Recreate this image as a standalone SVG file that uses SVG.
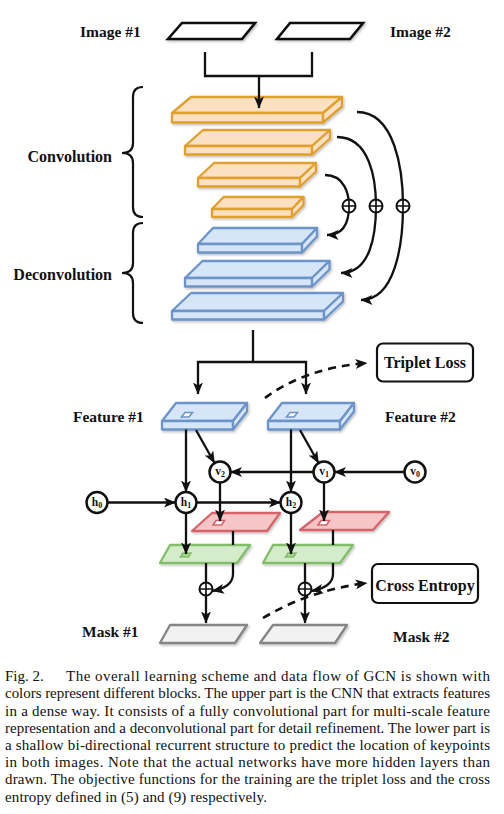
<svg xmlns="http://www.w3.org/2000/svg" width="504" height="814" viewBox="0 0 504 814">
<style>
.lbl{font-family:"Liberation Serif","Times New Roman",serif;font-weight:bold;font-size:15.5px;fill:#111}
.lbl16{font-family:"Liberation Serif","Times New Roman",serif;font-weight:bold;font-size:16px;fill:#111}
.nl{font-family:"Liberation Serif","Times New Roman",serif;font-weight:bold;font-size:11.5px;fill:#111}
.cap{font-family:"Liberation Serif","Times New Roman",serif;font-size:15px;fill:#111}
.conv{fill:#FCE0C2;stroke:#E0A02E;stroke-width:2.3;stroke-linejoin:round}
.dec{fill:#D6E5F7;stroke:#6C94C8;stroke-width:2.3;stroke-linejoin:round}
.red{fill:#F6C5C5;stroke:#D6646A;stroke-width:2.3;stroke-linejoin:round}
.grn{fill:#D5ECCB;stroke:#82BE6A;stroke-width:2.3;stroke-linejoin:round}
.msk{fill:#F2F2F2;stroke:#858585;stroke-width:2.3;stroke-linejoin:round}
.img{fill:#fff;stroke:#111;stroke-width:2.6;stroke-linejoin:miter}
.ln{fill:none;stroke:#111;stroke-width:2.3}
.arr{fill:none;stroke:#111;stroke-width:2.3;marker-end:url(#ah)}
.dash{fill:none;stroke:#111;stroke-width:2.6;stroke-dasharray:8 6;marker-end:url(#ah)}
.nd{fill:#fff;stroke:#111;stroke-width:2.5}
.plus{fill:#fff;stroke:#111;stroke-width:2}
.box{fill:#fff;stroke:#111;stroke-width:2.2}
.brace{fill:none;stroke:#111;stroke-width:2.2}
</style>
<defs>
<marker id="ah" markerUnits="userSpaceOnUse" markerWidth="12" markerHeight="10" refX="11.5" refY="5" orient="auto">
<path d="M0,0 L12,5 L0,10 L3,5 z" fill="#111"/>
</marker>
<filter id="sh" x="-10%" y="-10%" width="130%" height="150%">
<feDropShadow dx="1.2" dy="1.5" stdDeviation="1" flood-color="#000" flood-opacity="0.25"/>
</filter>
</defs>
<rect width="504" height="814" fill="#fff"/>

<!-- labels -->
<g id="labels">
<text class="lbl" x="80" y="37">Image #1</text>
<text class="lbl" x="390" y="37">Image #2</text>
<text class="lbl16" x="112" y="162" text-anchor="end">Convolution</text>
<text class="lbl16" x="112" y="280" text-anchor="end">Deconvolution</text>
<text class="lbl" x="73" y="422">Feature #1</text>
<text class="lbl" x="385" y="422">Feature #2</text>
<text class="lbl" x="82" y="637">Mask #1</text>
<text class="lbl" x="393" y="642">Mask #2</text>
</g>

<!-- braces -->
<g id="braces">
<path class="brace" d="M143,87 Q133,87 133,97 L133,143 Q133,153 122,153 Q133,153 133,163 L133,207 Q133,217 143,217"/>
<path class="brace" d="M143,223 Q133,223 133,233 L133,263 Q133,273 122,273 Q133,273 133,283 L133,313 Q133,323 143,323"/>
</g>

<!-- image inputs -->
<g id="image1" filter="url(#sh)"><polygon class="img" points="182,23 255,23 242,39 168,39"/></g>
<g id="image2" filter="url(#sh)"><polygon class="img" points="290,23 363,23 350,39 277,39"/></g>

<!-- convolution layers -->
<g id="conv1" filter="url(#sh)">
<polygon class="conv" points="191,97 342,97 323,113 172,113"/>
<polygon class="conv" points="172,113 323,113 323,122.5 172,122.5"/>
<polygon class="conv" points="323,113 342,97 342,106.5 323,122.5"/>
</g>
<g id="conv2" filter="url(#sh)">
<polygon class="conv" points="203,130 330,130 312,146 185,146"/>
<polygon class="conv" points="185,146 312,146 312,154.5 185,154.5"/>
<polygon class="conv" points="312,146 330,130 330,138.5 312,154.5"/>
</g>
<g id="conv3" filter="url(#sh)">
<polygon class="conv" points="214,163 316,163 300,178 198,178"/>
<polygon class="conv" points="198,178 300,178 300,186.5 198,186.5"/>
<polygon class="conv" points="300,178 316,163 316,171.5 300,186.5"/>
</g>
<g id="conv4" filter="url(#sh)">
<polygon class="conv" points="223.5,197 303.5,197 292,209 212,209"/>
<polygon class="conv" points="212,209 292,209 292,217 212,217"/>
<polygon class="conv" points="292,209 303.5,197 303.5,205 292,217"/>
</g>

<!-- deconvolution layers -->
<g id="deconv1" filter="url(#sh)">
<polygon class="dec" points="213,228 317,228 302,244 198,244"/>
<polygon class="dec" points="198,244 302,244 302,252.5 198,252.5"/>
<polygon class="dec" points="302,244 317,228 317,236.5 302,252.5"/>
</g>
<g id="deconv2" filter="url(#sh)">
<polygon class="dec" points="202.5,261 329.5,261 312,278 185,278"/>
<polygon class="dec" points="185,278 312,278 312,286.5 185,286.5"/>
<polygon class="dec" points="312,278 329.5,261 329.5,269.5 312,286.5"/>
</g>
<g id="deconv3" filter="url(#sh)">
<polygon class="dec" points="191,293 343,293 324,311 172,311"/>
<polygon class="dec" points="172,311 324,311 324,319.5 172,319.5"/>
<polygon class="dec" points="324,311 343,293 343,301.5 324,319.5"/>
</g>

<!-- features -->
<g id="feature1" filter="url(#sh)">
<polygon class="dec" points="176,403 247,403 233,421 162,421"/>
<polygon class="dec" points="162,421 233,421 233,429.5 162,429.5"/>
<polygon class="dec" points="233,421 247,403 247,411.5 233,429.5"/>
<polygon points="185,412.5 192.5,412.5 189,417 181.5,417" fill="#fff" stroke="#6C94C8" stroke-width="1.6"/>
</g>
<g id="feature2" filter="url(#sh)">
<polygon class="dec" points="282,403 354,403 340,421 268,421"/>
<polygon class="dec" points="268,421 340,421 340,429.5 268,429.5"/>
<polygon class="dec" points="340,421 354,403 354,411.5 340,429.5"/>
<polygon points="290,412.5 297.5,412.5 294,417 286.5,417" fill="#fff" stroke="#6C94C8" stroke-width="1.6"/>
</g>

<!-- red planes -->
<g id="red1" filter="url(#sh)">
<polygon class="red" points="212,513 280,513 267,531 192,531"/>
<polygon points="216,520.5 224.5,520.5 221.5,525 213,525" fill="#fff" stroke="#D6646A" stroke-width="1.6"/>
</g>
<g id="red2" filter="url(#sh)">
<polygon class="red" points="323,512 389,512 373,530 300,530"/>
<polygon points="321,520.5 329.5,520.5 326.5,525 318,525" fill="#fff" stroke="#D6646A" stroke-width="1.6"/>
</g>

<!-- green planes -->
<g id="green1" filter="url(#sh)">
<polygon class="grn" points="170,545 250,545 237,563 160,563"/>
<polygon points="183,553 191,553 188.5,557 180.5,557" fill="#A9D496" stroke="#82BE6A" stroke-width="1.6"/>
</g>
<g id="green2" filter="url(#sh)">
<polygon class="grn" points="273,545 353,545 340,563 263,563"/>
<polygon points="288,553 296,553 293.5,557 285.5,557" fill="#A9D496" stroke="#82BE6A" stroke-width="1.6"/>
</g>

<!-- masks -->
<g id="mask1" filter="url(#sh)"><polygon class="msk" points="170,625 247,625 235,643 160,643"/></g>
<g id="mask2" filter="url(#sh)"><polygon class="msk" points="273,625 347,625 335,643 260,643"/></g>

<!-- loss boxes -->
<g id="tripletLoss">
<rect class="box" x="377" y="343.5" width="96" height="38" rx="6"/>
<text class="lbl16" x="425" y="368" text-anchor="middle">Triplet Loss</text>
</g>
<g id="crossEntropy">
<rect class="box" x="372" y="564" width="106" height="39" rx="6"/>
<text class="lbl16" x="425" y="591" text-anchor="middle">Cross Entropy</text>
</g>

<!-- connectors -->
<g id="connectors">
<path class="ln" d="M205,52 L205,76 L312,76 L312,52"/>
<path class="arr" d="M259,76 L259,108"/>
<path class="arr" d="M357,112 C395,112 403,170 403,206 C403,245 395,300 361,300"/>
<path class="arr" d="M337,137 C370,137 376,180 376,206 C376,236 370,273 341,273"/>
<path class="arr" d="M325,175 C345,175 349,195 349,206 C349,220 345,235 327,235"/>
<path class="ln" d="M253,330 L253,362"/>
<path class="arr" d="M253,362 L198,362 L198,394"/>
<path class="arr" d="M253,362 L306,362 L306,394"/>
<path class="dash" d="M265,398 Q305,368 367,363"/>
<path class="arr" d="M186,429.5 L186,492"/>
<path class="arr" d="M291,429.5 L291,492"/>
<path class="arr" d="M196,430 L214.5,463"/>
<path class="arr" d="M300,430 L318.5,463"/>
<path class="arr" d="M107.5,502.5 L175.5,502.5"/>
<path class="arr" d="M196.5,502.5 L280.5,502.5"/>
<path class="arr" d="M404.5,472 L334.5,472"/>
<path class="arr" d="M313.5,472 L230.5,472"/>
<path class="arr" d="M220,482.5 L220,521"/>
<path class="arr" d="M324,482.5 L324,521"/>
<path class="arr" d="M186,513 L186,554"/>
<path class="arr" d="M291,513 L291,554"/>
<path class="ln" d="M233,531 L233,545"/>
<path class="ln" d="M333,530 L333,545"/>
<path class="arr" d="M233,563 L233,574 Q233,587 212.5,591"/>
<path class="arr" d="M333,563 L333,574 Q333,587 311.5,591"/>
<path class="ln" d="M206,563 L206,583"/>
<path class="arr" d="M206,595 L206,623"/>
<path class="ln" d="M305,563 L305,583"/>
<path class="arr" d="M305,595 L305,623"/>
<path class="dash" d="M263,618 Q310,590 367,583"/>
</g>

<!-- sum nodes -->
<g id="sum1"><circle class="plus" cx="349" cy="206" r="6.5"/><path class="ln" style="stroke-width:1.7" d="M342.5,206 H355.5 M349,199.5 V212.5"/></g>
<g id="sum2"><circle class="plus" cx="376" cy="206" r="6.5"/><path class="ln" style="stroke-width:1.7" d="M369.5,206 H382.5 M376,199.5 V212.5"/></g>
<g id="sum3"><circle class="plus" cx="403" cy="206" r="6.5"/><path class="ln" style="stroke-width:1.7" d="M396.5,206 H409.5 M403,199.5 V212.5"/></g>
<g id="sum4"><circle class="plus" cx="206" cy="589" r="6.5"/><path class="ln" style="stroke-width:1.7" d="M199.5,589 H212.5 M206,582.5 V595.5"/></g>
<g id="sum5"><circle class="plus" cx="305" cy="589" r="6.5"/><path class="ln" style="stroke-width:1.7" d="M298.5,589 H311.5 M305,582.5 V595.5"/></g>

<!-- recurrent nodes -->
<g id="h0"><circle class="nd" cx="97" cy="502.5" r="10.5"/><text class="nl" x="97" y="505.5" text-anchor="middle">h<tspan font-size="8" dy="2">0</tspan></text></g>
<g id="h1"><circle class="nd" cx="186" cy="502.5" r="10.5"/><text class="nl" x="186" y="505.5" text-anchor="middle">h<tspan font-size="8" dy="2">1</tspan></text></g>
<g id="h2"><circle class="nd" cx="291" cy="502.5" r="10.5"/><text class="nl" x="291" y="505.5" text-anchor="middle">h<tspan font-size="8" dy="2">2</tspan></text></g>
<g id="v2"><circle class="nd" cx="220" cy="472" r="10.5"/><text class="nl" x="220" y="475" text-anchor="middle">v<tspan font-size="8" dy="2">2</tspan></text></g>
<g id="v1"><circle class="nd" cx="324" cy="472" r="10.5"/><text class="nl" x="324" y="475" text-anchor="middle">v<tspan font-size="8" dy="2">1</tspan></text></g>
<g id="v0"><circle class="nd" cx="415" cy="472" r="10.5"/><text class="nl" x="415" y="475" text-anchor="middle">v<tspan font-size="8" dy="2">0</tspan></text></g>

<!-- caption -->
<g id="caption">
<text class="cap" x="5" y="681">Fig. 2.</text>
<text class="cap" x="66" y="681" textLength="424" lengthAdjust="spacing">The overall learning scheme and data flow of GCN is shown with</text>
<text class="cap" x="5" y="698.2" textLength="485" lengthAdjust="spacing">colors represent different blocks. The upper part is the CNN that extracts features</text>
<text class="cap" x="5" y="715.5" textLength="485" lengthAdjust="spacing">in a dense way. It consists of a fully convolutional part for multi-scale feature</text>
<text class="cap" x="5" y="732.7" textLength="485" lengthAdjust="spacing">representation and a deconvolutional part for detail refinement. The lower part is</text>
<text class="cap" x="5" y="750" textLength="485" lengthAdjust="spacing">a shallow bi-directional recurrent structure to predict the location of keypoints</text>
<text class="cap" x="5" y="767.2" textLength="485" lengthAdjust="spacing">in both images. Note that the actual networks have more hidden layers than</text>
<text class="cap" x="5" y="784.4" textLength="485" lengthAdjust="spacing">drawn. The objective functions for the training are the triplet loss and the cross</text>
<text class="cap" x="5" y="801.7" textLength="262" lengthAdjust="spacing">entropy defined in (5) and (9) respectively.</text>
</g>
</svg>
